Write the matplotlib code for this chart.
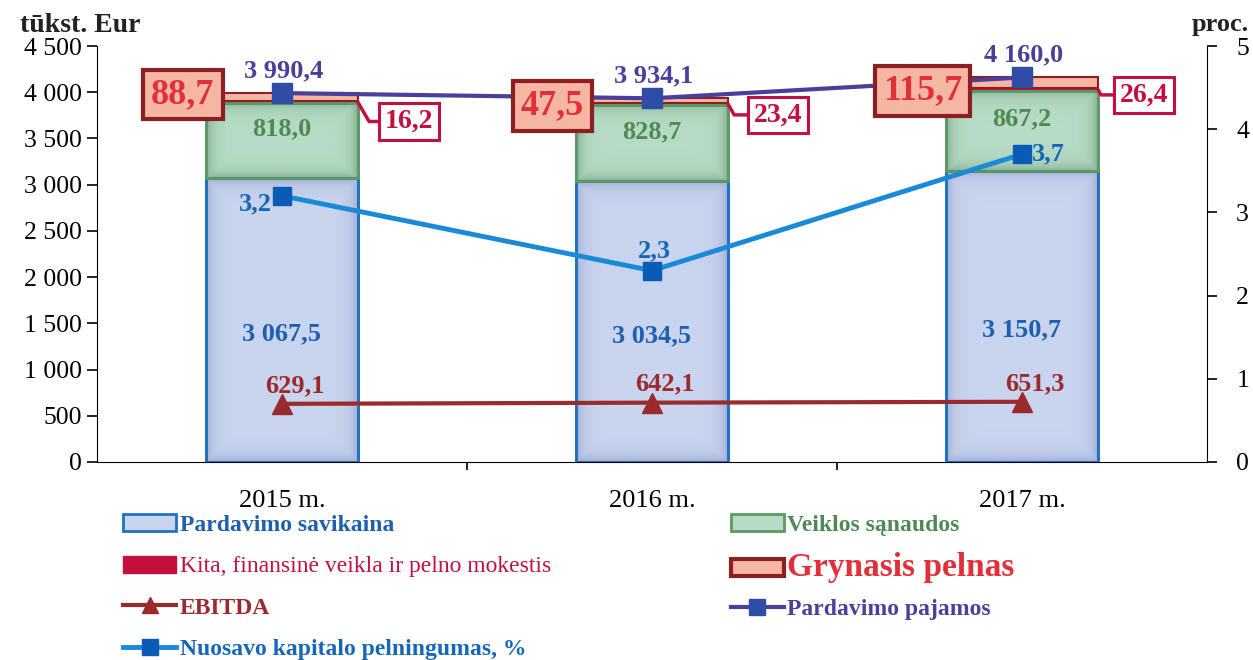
import matplotlib.pyplot as plt
import numpy as np
from matplotlib.patches import Patch
from matplotlib.lines import Line2D
from matplotlib.colors import to_rgb

years = ["2015 m.", "2016 m.", "2017 m."]
savikaina = [3067.5, 3034.5, 3150.7]
sanaudos = [818.0, 828.7, 867.2]
kita = [16.2, 23.4, 26.4]
pelnas = [88.7, 47.5, 115.7]
pajamos = [3990.4, 3934.1, 4160.0]
ebitda = [629.1, 642.1, 651.3]
roe = [3.2, 2.3, 3.7]


def lt(v, nd=1):
    # lithuanian number format: space for thousands, comma for decimals
    s = "{:,.{}f}".format(v, nd)
    return s.replace(",", " ").replace(".", ",")


def soft_edge(ax, x0, x1, y0, y1, color, strength=0.4, px=7.0):
    # darken the inside of a bar segment towards its border
    bb = ax.get_window_extent()
    sx = bb.width / np.diff(ax.get_xlim())[0]
    sy = bb.height / np.diff(ax.get_ylim())[0]
    wpx, hpx = (x1 - x0) * sx, (y1 - y0) * sy
    gx = np.linspace(0, wpx, 80)
    gy = np.linspace(0, hpx, 120)
    X, Y = np.meshgrid(gx, gy)
    d = np.minimum.reduce([X, wpx - X, Y, hpx - Y])
    img = np.zeros(X.shape + (4,))
    img[..., :3] = to_rgb(color)
    img[..., 3] = strength * np.exp(-d / px)
    ax.imshow(img, extent=(x0, x1, y0, y1), origin="lower", aspect="auto",
              interpolation="bilinear", zorder=2.5)


serif = "Liberation Serif"
plt.rcParams["font.family"] = serif

c_blue_fill = "#c9d4ee"
c_blue_edge = "#1f72c4"
c_green_fill = "#b7dcc5"
c_green_edge = "#5b9a62"
c_kita = "#c3103f"
c_pelnas_fill = "#f5b6a3"
c_pelnas_edge = "#8c1f22"
c_pelnas_txt = "#e2303a"
c_paj = "#4a3f9a"
c_paj_mk = "#2f4da6"
c_roe = "#1a8ad8"
c_roe_mk = "#0a5bb5"
c_ebitda = "#9a2a2c"

fig = plt.figure(figsize=(12.53, 6.6), dpi=100)
ax = fig.add_axes([0.0774, 0.30, 0.8859, 0.6303])
ax2 = ax.twinx()
ax.set_xlim(0, 3)
ax.set_ylim(0, 4500)
ax2.set_ylim(0, 5)

x = np.arange(len(years)) + 0.5
w = 0.41
sav = np.array(savikaina)
san = np.array(sanaudos)
kit = np.array(kita)
pel = np.array(pelnas)

ax.bar(x, sav, w, color=c_blue_fill, edgecolor=c_blue_edge, linewidth=2, zorder=3)
ax.bar(x, san, w, bottom=sav, color=c_green_fill, edgecolor=c_green_edge, linewidth=2, zorder=3)
ax.bar(x, kit, w, bottom=sav + san, color=c_kita, edgecolor=c_kita, linewidth=1.5, zorder=3)
ax.bar(x, pel, w, bottom=sav + san + kit, color=c_pelnas_fill, edgecolor=c_pelnas_edge,
       linewidth=1.5, zorder=3)
for b in ax.patches:
    b.set_zorder(2)
for i in range(len(x)):
    soft_edge(ax, x[i] - w / 2, x[i] + w / 2, 0, sav[i], "#5a6fa8", 0.35)
    soft_edge(ax, x[i] - w / 2, x[i] + w / 2, sav[i], sav[i] + san[i], "#4e7f62", 0.45)
# redraw the outlines above the shading
ax.bar(x, sav, w, color="none", edgecolor=c_blue_edge, linewidth=2, zorder=3)
ax.bar(x, san, w, bottom=sav, color="none", edgecolor=c_green_edge, linewidth=2, zorder=3)

ax.plot(x, ebitda, color=c_ebitda, lw=3, marker="^", ms=15, zorder=4)
ax.plot(x, pajamos, color=c_paj, lw=3, marker="s", ms=14, mfc=c_paj_mk, mec=c_paj_mk, zorder=5)
ax2.plot(x, roe, color=c_roe, lw=3.5, marker="s", ms=13, mfc=c_roe_mk, mec=c_roe_mk, zorder=5)

bold = dict(fontweight="bold", family=serif)
for i in range(len(x)):
    ax.text(x[i], sav[i] / 2 - 150, lt(savikaina[i]), ha="center", va="center",
            color="#1f5fb0", fontsize=19, zorder=6, **bold)
    ax.text(x[i], sav[i] + san[i] / 2 + 125, lt(sanaudos[i]), ha="center", va="center",
            color="#4f8a55", fontsize=19, zorder=6, **bold)
    ax.annotate(lt(ebitda[i]), (x[i], ebitda[i]), xytext=(9, 5), textcoords="offset points",
                ha="center", va="bottom", color=c_ebitda, fontsize=19, zorder=6, **bold)
    ax.annotate(lt(pajamos[i]), (x[i], pajamos[i]), xytext=(1, 8), textcoords="offset points",
                ha="center", va="bottom", color=c_paj, fontsize=19, zorder=6, **bold)

# ROE labels sit left / above / right of the markers
roe_off = [(-7, -6, "right", "center"), (2, 6, "center", "bottom"), (7, 0, "left", "center")]
for i in range(len(x)):
    dx, dy, ha, va = roe_off[i]
    ax2.annotate(lt(roe[i]), (x[i], roe[i]), xytext=(dx, dy), textcoords="offset points",
                 ha=ha, va=va, color="#1767b8", fontsize=19, zorder=7, **bold)

# net profit boxes on the left of each bar
pel_dy = [2, -4, -6]
for i in range(len(x)):
    ymid = sav[i] + san[i] + kit[i] + pel[i] / 2
    ax2.annotate(lt(pelnas[i]), (x[i] - w / 2, ymid / 900), xytext=(-17, pel_dy[i]),
                 textcoords="offset points", ha="center", va="center",
                 color=c_pelnas_txt, fontsize=26, zorder=8, **bold,
                 bbox=dict(boxstyle="square,pad=0.23", fc=c_pelnas_fill, ec=c_pelnas_edge, lw=3))

# "Kita" boxes with leader lines on the right of each bar
kita_dy = [-14, -8, -4]
kita_dx = [37, 36, 33]
for i in range(len(x)):
    ymid = (sav[i] + san[i] + kit[i] / 2) / 900
    ax2.annotate(lt(kita[i]), (x[i] + w / 2, ymid), xytext=(kita_dx[i], kita_dy[i]),
                 textcoords="offset points", ha="center", va="center",
                 color=c_kita, fontsize=20, zorder=8, **bold,
                 bbox=dict(boxstyle="square,pad=0.2", fc="white", ec=c_kita, lw=2.2),
                 arrowprops=dict(arrowstyle="-", color=c_kita, lw=2.5, shrinkA=0, shrinkB=0,
                                 connectionstyle="angle,angleA=0,angleB=-60,rad=0"))

ax.set_xlim(0, 3)
ax.set_ylim(0, 4500)
ax.set_yticks(np.arange(0, 4501, 500))
ax.set_yticklabels([lt(v, 0) for v in np.arange(0, 4501, 500)])
ax2.set_yticks(range(6))
ax.set_xticks([1, 2])
ax.set_xticklabels([])
ax.set_xticks(x, minor=True)
ax.set_xticklabels(years, minor=True)
ax.tick_params(axis="x", which="minor", length=0, pad=20, labelsize=19)
ax.tick_params(axis="x", which="major", length=6, width=1.2, direction="out")
ax.tick_params(axis="y", length=7, width=1.2, labelsize=18.5, pad=4)
ax2.tick_params(axis="y", length=7, width=1.2, labelsize=18.5, pad=14)
for a in (ax, ax2):
    a.spines["top"].set_visible(False)
ax.spines["right"].set_visible(False)
ax2.spines["left"].set_visible(False)
ax2.spines["bottom"].set_visible(False)
ax.set_zorder(ax2.get_zorder() - 1)
ax2.patch.set_visible(False)
ax.patch.set_visible(False)

fig.text(0.016, 0.962, "tūkst. Eur", fontsize=20, fontweight="bold", color="#222222", va="center")
fig.text(0.951, 0.963, "proc.", fontsize=19, fontweight="bold", color="#222222", va="center")

left_h = [
    Patch(fc=c_blue_fill, ec=c_blue_edge, lw=2),
    Patch(fc=c_kita, ec=c_kita),
    Line2D([], [], color=c_ebitda, lw=3, marker="^", ms=12),
    Line2D([], [], color=c_roe, lw=3.5, marker="s", ms=11, mfc=c_roe_mk, mec=c_roe_mk),
]
left_l = ["Pardavimo savikaina", "Kita, finansinė veikla ir pelno mokestis", "EBITDA",
          "Nuosavo kapitalo pelningumas, %"]
left_c = ["#1f5fb0", c_kita, c_ebitda, "#1767b8"]
right_h = [
    Patch(fc=c_green_fill, ec=c_green_edge, lw=2),
    Patch(fc=c_pelnas_fill, ec=c_pelnas_edge, lw=3),
    Line2D([], [], color=c_paj, lw=3, marker="s", ms=12, mfc=c_paj_mk, mec=c_paj_mk),
]
right_l = ["Veiklos sąnaudos", "Grynasis pelnas", "Pardavimo pajamos"]
right_c = ["#4f8a55", c_pelnas_txt, c_paj]

prop = dict(family=serif, weight="bold", size=17)
leg1 = fig.legend(left_h, left_l, loc="upper left", bbox_to_anchor=(0.089, 0.239),
                  frameon=False, prop=prop, handlelength=2.25, handleheight=0.75,
                  handletextpad=0.15, labelspacing=0.83, borderpad=0)
for t, c in zip(leg1.get_texts(), left_c):
    t.set_color(c)
leg1.get_texts()[1].set_fontweight("normal")

leg2 = fig.legend(right_h, right_l, loc="upper left", bbox_to_anchor=(0.5736, 0.239),
                  frameon=False, prop=prop, handlelength=2.25, handleheight=0.75,
                  handletextpad=0.15, labelspacing=0.66, borderpad=0)
for t, c in zip(leg2.get_texts(), right_c):
    t.set_color(c)
leg2.get_texts()[1].set_fontsize(24)

fig.savefig("out.png", dpi=100)
